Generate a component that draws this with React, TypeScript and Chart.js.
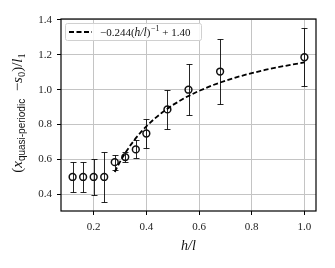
import React, { useEffect, useRef } from 'react';
import { Chart, registerables } from 'chart.js';

Chart.register(...registerables);

// ---- data ----
const hOverL = [0.12, 0.16, 0.2, 0.24, 0.28, 0.32, 0.36, 0.4, 0.48, 0.56, 0.68, 1.0];
const meanValues = [0.5, 0.5, 0.5, 0.5, 0.585, 0.614, 0.658, 0.749, 0.887, 1.0, 1.104, 1.186];
const errValues = [0.085, 0.085, 0.105, 0.145, 0.043, 0.03, 0.052, 0.083, 0.114, 0.146, 0.187, 0.167];
const xTickValues = [0.2, 0.4, 0.6, 0.8, 1.0];
const yTickValues = [0.4, 0.6, 0.8, 1.0, 1.2, 1.4];
// fit curve: y = fitCoefA * (h/l)^-1 + fitCoefB  (as stated in the legend)
const fitCoefA = -0.244;
const fitCoefB = 1.4;
const fitX = [0.28, 0.29, 0.3, 0.31, 0.32, 0.34, 0.36, 0.38, 0.4, 0.43, 0.46, 0.5, 0.55, 0.6, 0.65, 0.7, 0.75, 0.8, 0.85, 0.9, 0.95, 1.0];
const fitLabel = '−0.244(h/l)⁻¹ + 1.40';

const SERIF = '"Liberation Serif", "DejaVu Serif", serif';
const SANS = '"Liberation Sans", "DejaVu Sans", sans-serif';

const extrasPlugin = {
  id: 'extras',
  beforeDatasetsDraw(chart: any) {
    const { ctx, scales } = chart;
    const xs = scales.x;
    const ys = scales.y;
    ctx.save();
    ctx.strokeStyle = 'rgba(0,0,0,0.85)';
    ctx.lineWidth = 1;
    for (let i = 0; i < hOverL.length; i++) {
      const px = Math.round(xs.getPixelForValue(hOverL[i])) + 0.5;
      const top = Math.round(ys.getPixelForValue(meanValues[i] + errValues[i])) + 0.5;
      const bot = Math.round(ys.getPixelForValue(meanValues[i] - errValues[i])) + 0.5;
      ctx.beginPath();
      ctx.moveTo(px, top);
      ctx.lineTo(px, bot);
      ctx.moveTo(px - 3, top);
      ctx.lineTo(px + 3, top);
      ctx.moveTo(px - 3, bot);
      ctx.lineTo(px + 3, bot);
      ctx.stroke();
    }
    ctx.restore();
  },
  afterDraw(chart: any) {
    const { ctx, chartArea } = chart;
    const { left, right, top, bottom } = chartArea;
    ctx.save();
    // frame
    ctx.strokeStyle = '#000';
    ctx.lineWidth = 1.2;
    ctx.strokeRect(left, top, right - left, bottom - top);

    // legend
    const lx = left + 4;
    const ly = top + 4;
    const lw = 136;
    const lh = 17;
    ctx.fillStyle = 'rgba(255,255,255,0.85)';
    ctx.strokeStyle = '#d0d0d0';
    ctx.lineWidth = 1;
    ctx.beginPath();
    (ctx as any).roundRect(lx + 0.5, ly + 0.5, lw, lh, 2);
    ctx.fill();
    ctx.stroke();
    const midY = ly + lh / 2 + 0.5;
    ctx.strokeStyle = '#000';
    ctx.lineWidth = 1.8;
    ctx.setLineDash([5, 2.5]);
    ctx.beginPath();
    ctx.moveTo(lx + 4, midY);
    ctx.lineTo(lx + 27, midY);
    ctx.stroke();
    ctx.setLineDash([]);
    ctx.fillStyle = '#111';
    ctx.textBaseline = 'alphabetic';
    ctx.textAlign = 'left';
    let tx = lx + 35;
    const base = midY + 3.5;
    const parts: [string, string, number][] = [
      ['−0.244(', `11px ${SERIF}`, 0],
      ['h/l', `italic 11.5px ${SERIF}`, 0],
      [')', `11px ${SERIF}`, 0],
      ['−1', `8px ${SERIF}`, -4.5],
      [' + 1.40', `11px ${SERIF}`, 0],
    ];
    for (const [t, f, dy] of parts) {
      ctx.font = f;
      ctx.fillText(t, tx, base + dy);
      tx += ctx.measureText(t).width + (t === ')' ? 0.5 : 0);
    }

    // y axis label
    const yParts: [string, string, number][] = [
      ['(', `15px ${SERIF}`, 0],
      ['x', `italic 15px ${SERIF}`, 0],
      ['quasi-periodic', `10px ${SANS}`, 3],
      ['  −', `15px ${SERIF}`, 0],
      ['s', `italic 15px ${SERIF}`, 0],
      ['0', `10.5px ${SERIF}`, 3],
      [')/', `15px ${SERIF}`, 0],
      ['l', `italic 15px ${SERIF}`, 0],
      ['1', `10.5px ${SERIF}`, 3],
    ];
    let total = 0;
    for (const [t, f] of yParts) {
      ctx.font = f;
      total += ctx.measureText(t).width;
    }
    ctx.translate(22, (top + bottom) / 2 - 2);
    ctx.rotate(-Math.PI / 2);
    let ox = -total / 2;
    for (const [t, f, dy] of yParts) {
      ctx.font = f;
      ctx.fillText(t, ox, dy);
      ox += ctx.measureText(t).width;
    }
    ctx.restore();
  },
};

export default function App() {
  const ref = useRef<HTMLCanvasElement | null>(null);
  useEffect(() => {
    if (!ref.current) return;
    const chart = new Chart(ref.current, {
      type: 'scatter',
      data: {
        datasets: [
          {
            type: 'line',
            label: fitLabel,
            data: fitX.map((x) => ({ x, y: fitCoefA / x + fitCoefB })),
            borderColor: '#000',
            borderWidth: 1.8,
            borderDash: [5, 2.5],
            pointRadius: 0,
            fill: false,
            tension: 0,
            order: 0,
          } as any,
          {
            type: 'scatter',
            label: 'data',
            data: hOverL.map((x, i) => ({ x, y: meanValues[i] })),
            pointRadius: 3.4,
            pointBorderWidth: 1.5,
            pointBackgroundColor: 'rgba(0,0,0,0)',
            pointBorderColor: '#111',
            showLine: false,
            order: 1,
          } as any,
        ],
      },
      options: {
        responsive: false,
        animation: false,
        layout: { padding: { top: 19, right: 19, left: 0, bottom: 0 } },
        plugins: { legend: { display: false }, tooltip: { enabled: false } },
        scales: {
          x: {
            type: 'linear',
            min: 0.076,
            max: 1.044,
            afterBuildTicks: (s: any) => {
              s.ticks = xTickValues.map((v) => ({ value: v }));
            },
            afterFit: (s: any) => {
              s.height = 57;
            },
            grid: { color: '#c4c4c4', lineWidth: 1, tickColor: '#000', tickLength: 4, drawTicks: true },
            border: { display: false },
            ticks: {
              color: '#222',
              font: { family: SERIF, size: 11 },
              padding: 6,
              maxRotation: 0,
              callback: (v: any) => Number(v).toFixed(1),
            },
            title: {
              display: true,
              text: 'h/l',
              color: '#111',
              font: { family: SERIF, size: 14, style: 'italic' },
              padding: { top: 0, bottom: 13 },
            },
          },
          y: {
            type: 'linear',
            min: 0.305,
            max: 1.405,
            afterBuildTicks: (s: any) => {
              s.ticks = yTickValues.map((v) => ({ value: v }));
            },
            afterFit: (s: any) => {
              s.width = 61;
            },
            grid: { color: '#c4c4c4', lineWidth: 1, tickColor: '#000', tickLength: 4, drawTicks: true },
            border: { display: false },
            ticks: {
              color: '#222',
              font: { family: SERIF, size: 11 },
              padding: 5,
              callback: (v: any) => Number(v).toFixed(1),
            },
          },
        },
      },
      plugins: [extrasPlugin],
    });
    return () => chart.destroy();
  }, []);
  return (
    <div style={{ position: 'fixed', left: 0, top: 0, width: 335, height: 268, background: '#fff' }}>
      <canvas ref={ref} width={335} height={268} style={{ display: 'block' }} />
    </div>
  );
}
